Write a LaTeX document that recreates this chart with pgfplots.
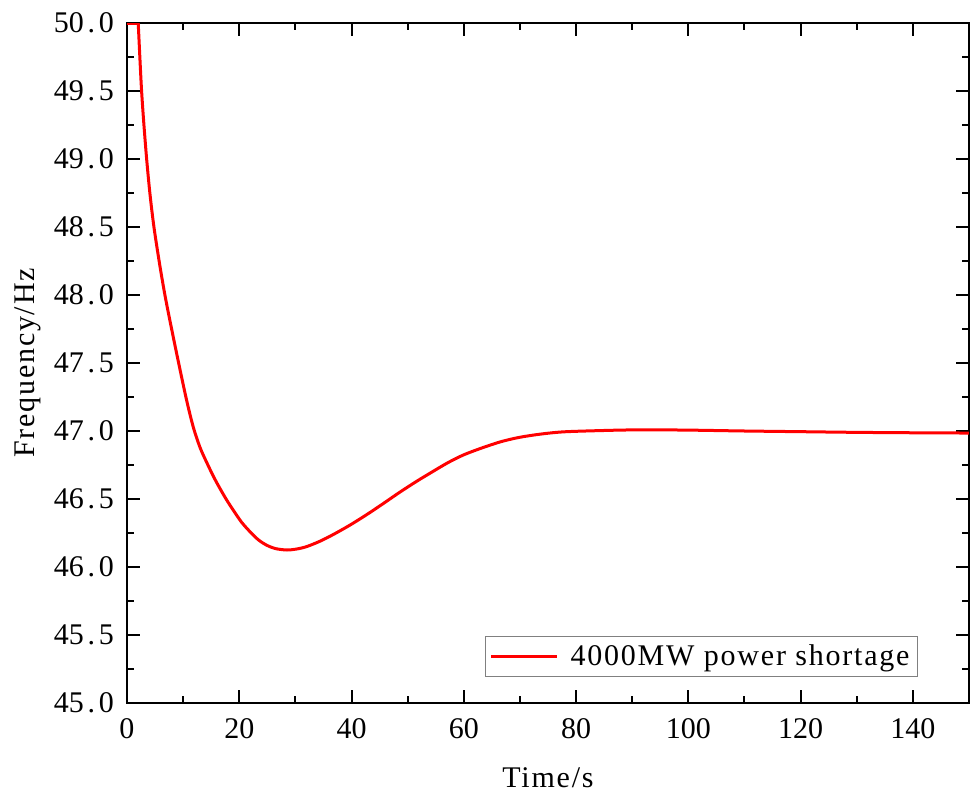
\documentclass[border=0pt]{standalone}
\usepackage{fontspec}
\setmainfont{Liberation Serif}
\newfontfamily\spaced[LetterSpace=6]{Liberation Serif}
\usepackage{pgfplots}
\pgfplotsset{compat=1.18}
\newcommand{\dotc}{\makebox[0.5em]{.}}
\newcommand{\lblfont}{\fontsize{15}{18}\selectfont}

\pgfplotstableread{
t f
2.0 50
2.3 49.74
2.6 49.5
3.0 49.26
3.5 49.0
4.1 48.74
4.8 48.5
5.8 48.23
6.8 47.99
8.0 47.74
9.2 47.5
10.6 47.23
11.8 47.03
13.0 46.88
14.3 46.76
15.6 46.65
16.8 46.56
17.8 46.49
18.9 46.42
20.4 46.33
21.9 46.26
23.4 46.2
24.9 46.16
26.5 46.135
28.5 46.125
30.2 46.132
32.0 46.15
34.4 46.19
36.8 46.24
39.8 46.31
42.7 46.385
45.6 46.465
48.6 46.55
51.6 46.63
54.6 46.705
57.3 46.77
60.0 46.825
63.2 46.875
66.5 46.92
69.5 46.95
72.4 46.97
75.3 46.985
78.3 46.995
84.3 47.003
90.2 47.008
99.1 47.007
110 47.0
120 46.995
130 46.99
140 46.987
150 46.985
}\freq

\pgfplotstableread{
t f
0 50
2.0 50
}\flat

\begin{document}
\begin{tikzpicture}
\begin{axis}[
    width=421pt, height=340pt, scale only axis,
    xmin=0, xmax=150, ymin=45, ymax=50,
    xtick={0,20,...,140},
    ytick={45,45.5,46,46.5,47,47.5,48,48.5,49,49.5,50},
    yticklabels={45\dotc0,45\dotc5,46\dotc0,46\dotc5,47\dotc0,47\dotc5,48\dotc0,48\dotc5,49\dotc0,49\dotc5,50\dotc0},
    minor x tick num=1, minor y tick num=1,
    tick align=inside,
    major tick length=6.5pt, minor tick length=3.5pt,
    every tick/.style={black, line width=1pt},
    axis line style={line width=1.25pt},
    /pgf/number format/assume math mode=true,
    tick label style={font=\lblfont},
    xticklabel style={yshift=-4pt},
    yticklabel style={xshift=-3pt},
    label style={font=\lblfont\spaced},
    xlabel={Time/s}, ylabel={Frequency/Hz},
    xlabel style={at={(axis description cs:0.5,-0.11)}, anchor=center},
    ylabel style={at={(axis description cs:-0.118,0.5)}, anchor=center},
    legend style={at={(rel axis cs:0.9395,0.038)}, anchor=south east,
        draw=gray, line width=0.5pt, font=\lblfont\spaced, inner sep=2pt},
    legend cell align=left,
    legend image code/.code={\draw[#1, line width=1.5pt] (0pt,0pt) -- (33pt,0pt); \path (37pt,0pt);},
]
\addplot[red, line width=1.5pt, forget plot] table[x=t, y=f] {\flat};
\addplot[red, line width=1.5pt, smooth, tension=0.5] table[x=t, y=f] {\freq};
\addlegendentry{4000MW power shortage}
\end{axis}
\pgfresetboundingbox
\path ([shift={(-63.5pt,-45.5pt)}]current axis.south west) rectangle ([shift={(424.5pt,351.5pt)}]current axis.south west);
\end{tikzpicture}
\end{document}
